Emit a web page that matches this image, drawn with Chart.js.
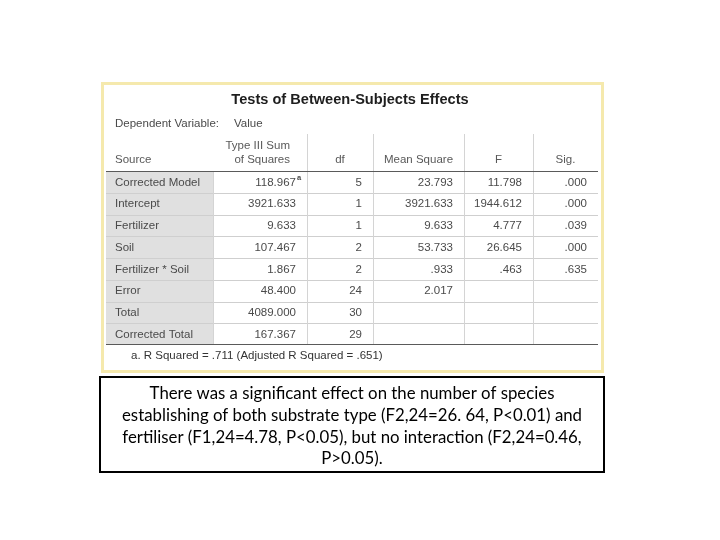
<!DOCTYPE html>
<html>
<head>
<meta charset="utf-8">
<script src="https://cdn.jsdelivr.net/npm/chart.js@4.4.1/dist/chart.umd.min.js"></script>
<style>
html,body{margin:0;padding:0;background:#fff;}
canvas{display:block;}
</style>
</head>
<body>
<canvas id="c" width="720" height="540"></canvas>
<script>
// ---- data ----
const tableTitle = 'Tests of Between-Subjects Effects';
const dependentVariable = 'Value';
const sources = ['Corrected Model','Intercept','Fertilizer','Soil','Fertilizer * Soil','Error','Total','Corrected Total'];
const sumSquares = [118.967, 3921.633, 9.633, 107.467, 1.867, 48.400, 4089.000, 167.367];
const dfValues = [5, 1, 1, 2, 2, 24, 30, 29];
const meanSquare = [23.793, 3921.633, 9.633, 53.733, 0.933, 2.017, null, null];
const fValues = [11.798, 1944.612, 4.777, 26.645, 0.463, null, null, null];
const sigValues = [0.000, 0.000, 0.039, 0.000, 0.635, null, null, null];
const columnHeaders = [['Source'], ['Type III Sum', 'of Squares'], ['df'], ['Mean Square'], ['F'], ['Sig.']];
const footnote = 'a. R Squared = .711 (Adjusted R Squared = .651)';
const conclusionLines = [
  'There was a significant effect on the number of species',
  'establishing of both substrate type (F2,24=26. 64, P<0.01) and',
  'fertiliser (F1,24=4.78, P<0.05), but no interaction (F2,24=0.46,',
  'P>0.05).'
];

// ---- layout / style ----
const colWidths = [107, 94, 66, 91, 69, 65];
const tableFont = '"Liberation Sans", Arial, sans-serif';

function fmt3(v) {
  if (v === null || v === undefined) return '';
  return v.toFixed(3).replace(/^0\./, '.');
}

const tablePlugin = {
  id: 'tablePlugin',
  afterDraw(chart) {
    const ctx = chart.ctx;
    const xs = chart.scales.x, ys = chart.scales.y;
    const area = chart.chartArea;
    const n = sources.length;
    const rowH = (area.bottom - area.top) / n;
    const edges = [0];
    colWidths.forEach(w => edges.push(edges[edges.length - 1] + w));
    const ex = edges.map(e => xs.getPixelForValue(e));
    const left = ex[0], right = ex[ex.length - 1];
    const top = area.top, bottom = area.bottom;

    ctx.save();
    // outer pale-yellow frame
    ctx.strokeStyle = '#f5e9ad';
    ctx.lineWidth = 3;
    ctx.strokeRect(102.5, 83.5, 500, 288);

    // title
    ctx.fillStyle = '#1e1e1e';
    ctx.font = 'bold 14.6px ' + tableFont;
    ctx.textAlign = 'center';
    ctx.textBaseline = 'middle';
    ctx.fillText(tableTitle, 350, 100);

    // dependent variable
    ctx.font = '11.5px ' + tableFont;
    ctx.fillStyle = '#4a4a4a';
    ctx.textAlign = 'left';
    ctx.fillText('Dependent Variable:', 115, 124);
    ctx.fillText(dependentVariable, 234, 124);

    // source column background
    ctx.fillStyle = '#e0e0e0';
    ctx.fillRect(left, top, ex[1] - left, bottom - top);

    // horizontal row lines
    ctx.lineWidth = 1;
    for (let i = 1; i < n; i++) {
      const y = Math.round(ys.getPixelForValue(i) - rowH / 2) + 0.5;
      ctx.strokeStyle = '#cfcfcf';
      ctx.beginPath(); ctx.moveTo(left, y); ctx.lineTo(right, y); ctx.stroke();
    }
    // vertical lines
    ctx.strokeStyle = '#d4d4d4';
    for (let c = 1; c < ex.length - 1; c++) {
      const x = Math.round(ex[c]) + 0.5;
      ctx.beginPath(); ctx.moveTo(x, c === 1 ? top : 134); ctx.lineTo(x, bottom); ctx.stroke();
    }
    // header/bottom dark lines
    ctx.strokeStyle = '#5a5a5a';
    ctx.beginPath(); ctx.moveTo(left, top + 0.5); ctx.lineTo(right, top + 0.5); ctx.stroke();
    ctx.beginPath(); ctx.moveTo(left, bottom - 0.5); ctx.lineTo(right, bottom - 0.5); ctx.stroke();

    // header text
    ctx.font = '11.5px ' + tableFont;
    ctx.fillStyle = '#595959';
    columnHeaders.forEach((lines, c) => {
      lines.forEach((t, k) => {
        const y = 160 - (lines.length - 1 - k) * 14;
        if (c === 0) { ctx.textAlign = 'left'; ctx.fillText(t, ex[0] + 9, y); }
        else if (c === 1) { ctx.textAlign = 'right'; ctx.fillText(t, ex[2] - 17, y); }
        else { ctx.textAlign = 'center'; ctx.fillText(t, (ex[c] + ex[c + 1]) / 2, y); }
      });
    });

    // body
    const cols = [sumSquares.map(fmt3), dfValues.map(v => String(v)), meanSquare.map(fmt3), fValues.map(fmt3), sigValues.map(fmt3)];
    for (let i = 0; i < n; i++) {
      const y = ys.getPixelForValue(i) + 0.5;
      ctx.fillStyle = '#4a4a4a';
      ctx.textAlign = 'left';
      ctx.font = '11.5px ' + tableFont;
      ctx.fillText(sources[i], ex[0] + 9, y);
      ctx.textAlign = 'right';
      cols.forEach((arr, c) => {
        ctx.fillText(arr[i], ex[c + 2] - 11, y);
      });
      if (i === 0) {
        ctx.font = 'bold 7.5px ' + tableFont;
        ctx.textAlign = 'left';
        ctx.fillText('a', ex[2] - 10, y - 4);
        ctx.font = '11.5px ' + tableFont;
      }
    }

    // footnote
    ctx.fillStyle = '#333';
    ctx.textAlign = 'left';
    ctx.font = '11.5px ' + tableFont;
    ctx.fillText(footnote, 131, 356);

    // conclusion box
    ctx.strokeStyle = '#000';
    ctx.lineWidth = 2;
    ctx.strokeRect(100, 377, 504, 95);
    ctx.fillStyle = '#000';
    ctx.textAlign = 'center';
    let size = 16;
    ctx.font = size + 'px Lato, "Open Sans", sans-serif';
    const w = ctx.measureText(conclusionLines[0]).width;
    size = size * 405 / w;
    ctx.font = size.toFixed(2) + 'px Lato, "Open Sans", sans-serif';
    conclusionLines.forEach((t, k) => {
      ctx.fillText(t, 352, 394 + k * 21.6);
    });
    ctx.restore();
  }
};

new Chart(document.getElementById('c'), {
  type: 'scatter',
  data: { datasets: [] },
  options: {
    responsive: false,
    animation: false,
    layout: { padding: { top: 171, bottom: 540 - 345, left: 106, right: 720 - 598 } },
    plugins: { legend: { display: false }, tooltip: { enabled: false } },
    scales: {
      x: { type: 'linear', min: 0, max: colWidths.reduce((a, b) => a + b, 0), display: false },
      y: { type: 'category', labels: sources, offset: true, display: false }
    }
  },
  plugins: [tablePlugin]
});
</script>
</body>
</html>
